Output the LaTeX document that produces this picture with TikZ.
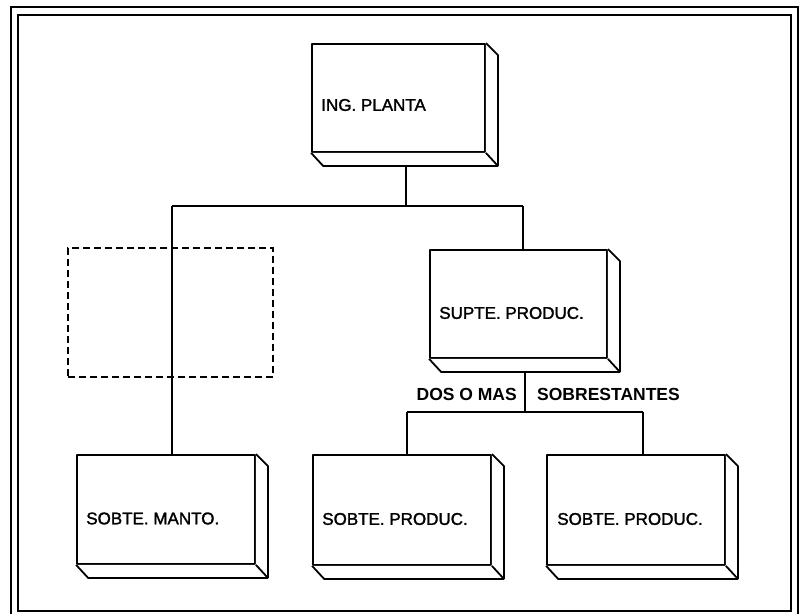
\documentclass[tikz,border=0pt]{standalone}
\usepackage{fontspec}
\setmainfont{Liberation Sans}
\newfontfamily\boxfont{Liberation Sans}[BoldFont={Liberation Sans}, BoldFeatures={FakeBold=1.6}]
\usetikzlibrary{calc}
\tikzset{
  x=1pt, y=-1pt,
  face/.style={draw=black, line width=1.8pt, fill=white, minimum width=178pt, minimum height=110pt, inner sep=0pt, line join=round},
  lbl/.style={font=\boxfont\bfseries\fontsize{17}{20}\selectfont, inner sep=0pt, anchor=west},
  tag/.style={font=\bfseries\fontsize{17.5}{20}\selectfont, inner sep=0pt},
  conn/.style={draw=black, line width=1.4pt},
  frame/.style={draw=black, line width=2.4pt},
  ghost/.style={draw=black, line width=1.8pt, dash pattern=on 7pt off 4pt}
}
\newcommand{\depthbox}[1]{%
  \fill[white] (#1.north east) -- ++(12,12) -- ($(#1.south east)+(12,13)$) -- ($(#1.south west)+(12,13)$) -- (#1.south west) -- (#1.south east) -- cycle;
  \draw[line width=1.8pt, line join=round] (#1.north east) -- ++(12,12) -- ($(#1.south east)+(12,13)$) -- ($(#1.south west)+(12,13)$) -- (#1.south west);
  \draw[line width=1.8pt] (#1.south east) -- ++(12,13);
}
\begin{document}
\begin{tikzpicture}
\useasboundingbox (0,0) rectangle (803,613);
% frames
\draw[frame] (18,15) rectangle (791,611);
\draw[line width=2pt] (11,625) -- (11,7) -- (798,7) -- (798,625);
% junction coordinates
\coordinate (j1) at (406,206);
\coordinate (jl) at (172,206);
\coordinate (jr) at (523,206);
\coordinate (j2) at (525,412);
\coordinate (j2l) at (407,412);
\coordinate (j2r) at (643,412);
% connectors (drawn first; boxes cover their ends)
\draw[conn] (406,120) -- (j1);
\draw[conn] (jl) -- (jr);
\draw[conn] (jl) -- (172,480);
\draw[conn] (jr) -- (523,280);
\draw[conn] (525,330) -- (j2);
\draw[conn] (j2l) -- (j2r);
\draw[conn] (j2l) -- (407,480);
\draw[conn] (j2r) -- (643,480);
% dashed box
\node[ghost, minimum width=205pt, minimum height=129pt, inner sep=0pt] (dash) at (170.5,312.5) {};
% boxes
\node[face, minimum width=173pt, minimum height=108pt] (ing) at (398.5,98) {};
\depthbox{ing}
\node[face, minimum width=177pt, minimum height=108pt] (sup) at (518.5,304) {};
\depthbox{sup}
\node[face, minimum height=109pt] (manto) at (166,509.5) {};
\depthbox{manto}
\node[face] (prod1) at (402,510) {};
\depthbox{prod1}
\node[face] (prod2) at (636,510) {};
\depthbox{prod2}
% labels
\node[lbl] (ingt) at ([xshift=10,yshift=-7]ing.west) {ING. PLANTA};
\node[lbl] (supt) at ([xshift=10,yshift=-9]sup.west) {SUPTE. PRODUC.};
\node[lbl] (mantot) at ([xshift=10,yshift=-9]manto.west) {SOBTE. MANTO.};
\node[lbl] (prod1t) at ([xshift=10,yshift=-9]prod1.west) {SOBTE. PRODUC.};
\node[lbl] (prod2t) at ([xshift=11,yshift=-9]prod2.west) {SOBTE. PRODUC.};
\node[tag, anchor=east] (dos) at (517,394) {DOS O MAS};
\node[tag, anchor=west] (sobre) at (537,394) {SOBRESTANTES};
\end{tikzpicture}
\end{document}
